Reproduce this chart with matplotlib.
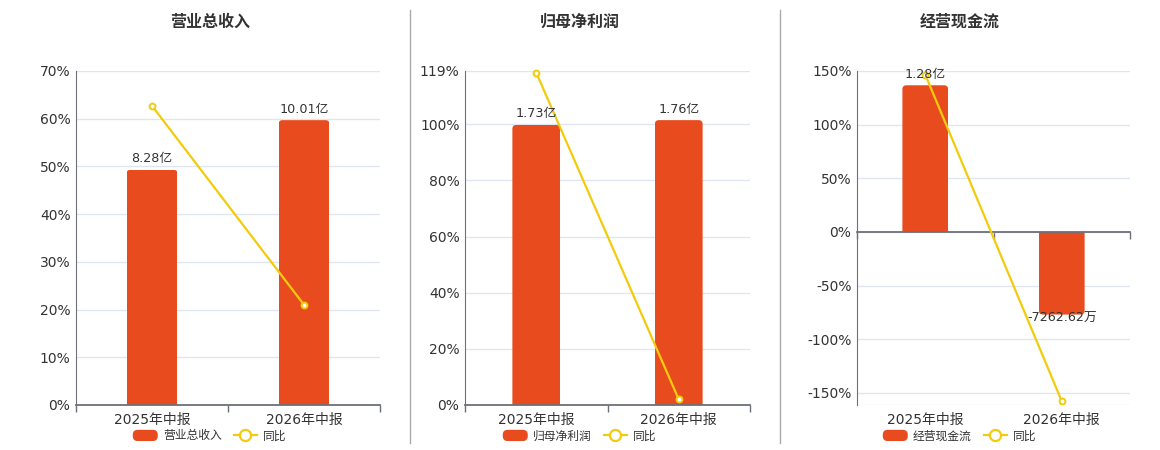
import matplotlib
matplotlib.use("Agg")
import matplotlib.pyplot as plt
from matplotlib.lines import Line2D
from matplotlib.patches import Patch, FancyBboxPatch, Rectangle
from matplotlib.legend_handler import HandlerPatch

plt.rcParams['font.family'] = ['DejaVu Sans', 'Noto Sans CJK SC']

# datos
categorias = ["2025年中报", "2026年中报"]

titulos = ["营业总收入", "归母净利润", "经营现金流"]

# altura de barras en la escala del eje (%)
barras_ingreso = [49.3, 59.7]
barras_beneficio = [99.8, 101.5]
barras_flujo = [136.7, -77.0]

etiquetas_ingreso = ["8.28亿", "10.01亿"]
etiquetas_beneficio = ["1.73亿", "1.76亿"]
etiquetas_flujo = ["1.28亿", "-7262.62万"]

# 同比 (%)
yoy_ingreso = [62.7, 21.0]
yoy_beneficio = [118.4, 2.0]
yoy_flujo = [146.6, -157.7]

ticks_ingreso = [0, 10, 20, 30, 40, 50, 60, 70]
ticks_beneficio = [0, 20, 40, 60, 80, 100, 119]
ticks_flujo = [-150, -100, -50, 0, 50, 100, 150]

limites = [(0, 70), (0, 119), (-161.3, 150)]

ROJO = "#E84C1E"
AMARILLO = "#F2CC0C"
GRIS = "#6E7079"
TEXTO = "#333333"

ANCHO, ALTO = 1160, 450
fig = plt.figure(figsize=(11.6, 4.5), dpi=100)

# cajas de los ejes en pixeles (izq, der)
cajas = [(76, 380), (465, 750), (857, 1130)]
arriba, abajo = 71, 405
centros_titulo = [210, 580, 960]

paneles = [
    (barras_ingreso, etiquetas_ingreso, yoy_ingreso, ticks_ingreso),
    (barras_beneficio, etiquetas_beneficio, yoy_beneficio, ticks_beneficio),
    (barras_flujo, etiquetas_flujo, yoy_flujo, ticks_flujo),
]


def barras_redondeadas(ax, rects, ancho_px, alto_px, radio_px=4):
    # reemplaza cada rectangulo por uno con el extremo redondeado
    x0, x1 = ax.get_xlim()
    y0, y1 = ax.get_ylim()
    ux = (x1 - x0) / ancho_px
    uy = (y1 - y0) / alto_px
    r = radio_px * ux
    for rect in rects:
        bx, by = rect.get_x(), rect.get_y()
        bw, bh = rect.get_width(), rect.get_height()
        extra = radio_px * uy
        if bh >= 0:
            yb, hh = by - extra, bh + extra
        else:
            yb, hh = by + bh, -bh + extra
        p = FancyBboxPatch((bx, yb), bw, hh,
                           boxstyle=f"round,pad=0,rounding_size={r}",
                           mutation_aspect=uy / ux,
                           facecolor=ROJO, edgecolor="none", zorder=2)
        ax.add_patch(p)
        clip = Rectangle((bx, min(by, by + bh)), bw, abs(bh), transform=ax.transData)
        p.set_clip_path(clip)
        rect.set_visible(False)


def parche_leyenda(legend, orig_handle, xdescent, ydescent, width, height, fontsize):
    return FancyBboxPatch((-xdescent, -ydescent), width, height,
                          boxstyle="round,pad=0,rounding_size=3")


for i, (barras, etiquetas, yoy, ticks) in enumerate(paneles):
    izq, der = cajas[i]
    ax = fig.add_axes([izq / ANCHO, (ALTO - abajo) / ALTO,
                       (der - izq) / ANCHO, (abajo - arriba) / ALTO])
    x = list(range(len(categorias)))
    ax.set_xlim(-0.5, 1.5)
    ax.set_ylim(*limites[i])

    rects = ax.bar(x, barras, width=0.335, color=ROJO, zorder=2)
    barras_redondeadas(ax, rects, der - izq, abajo - arriba)

    ax.plot(x, yoy, color=AMARILLO, linewidth=1.6, marker="o", markersize=4.2,
            markerfacecolor="white", markeredgecolor=AMARILLO, markeredgewidth=1.4,
            zorder=3, clip_on=False)

    for xi, h, txt in zip(x, barras, etiquetas):
        if h >= 0:
            ax.annotate(txt, (xi, h), xytext=(0, 8), textcoords="offset points",
                        ha="center", va="center", fontsize=9.2, color=TEXTO, zorder=4)
        else:
            ax.annotate(txt, (xi, h), xytext=(0, -3), textcoords="offset points",
                        ha="center", va="center", fontsize=9.2, color=TEXTO, zorder=4)

    ax.set_yticks(ticks)
    ax.set_yticklabels([f"{t}%" for t in ticks])
    ax.set_xticks([-0.5, 0.5, 1.5])
    ax.set_xticklabels([])
    ax.tick_params(axis="x", length=5, color=GRIS, width=1)
    ax.tick_params(axis="y", length=0, pad=4, labelsize=10, colors=TEXTO)
    for xi, cat in zip(x, categorias):
        ax.text(xi, -15 / (abajo - arriba), cat, transform=ax.get_xaxis_transform(),
                ha="center", va="center", fontsize=10, color=TEXTO)

    ax.grid(axis="y", color="#E0E6F1", linewidth=1, zorder=0)
    ax.set_axisbelow(True)
    for lado in ["top", "right"]:
        ax.spines[lado].set_visible(False)
    ax.spines["left"].set_color(GRIS)
    ax.spines["bottom"].set_color(GRIS)
    ax.spines["bottom"].set_linewidth(1.3)
    ax.spines["bottom"].set_position(("data", 0))
    if i == 2:
        ax.axhline(limites[i][0], color="#E0E6F1", linewidth=1, zorder=0)

    fig.text(centros_titulo[i] / ANCHO, 1 - 22 / ALTO, titulos[i], ha="center", va="center",
             fontsize=11.5, fontweight="bold", color=TEXTO, family=['Noto Sans CJK SC'])

    manejadores = [
        Patch(facecolor=ROJO, edgecolor=ROJO, label=titulos[i]),
        Line2D([0], [0], color=AMARILLO, linewidth=1.6, marker="o", markersize=8,
               markerfacecolor="white", markeredgecolor=AMARILLO, markeredgewidth=1.6,
               label="同比"),
    ]
    fig.legend(handles=manejadores, loc="center", ncol=2, frameon=False,
               bbox_to_anchor=(centros_titulo[i] / ANCHO, 1 - 436 / ALTO), fontsize=8.5,
               handlelength=2.0, handleheight=0.9, columnspacing=1.0, handletextpad=0.5,
               labelcolor=TEXTO,
               handler_map={Patch: HandlerPatch(patch_func=parche_leyenda)})

# separadores
for xs in [410, 780]:
    fig.add_artist(Line2D([xs / ANCHO, xs / ANCHO], [1 - 443 / ALTO, 1 - 10 / ALTO],
                          color="#AAAAAA", linewidth=1))

fig.savefig("out.png", dpi=100, facecolor="white")
